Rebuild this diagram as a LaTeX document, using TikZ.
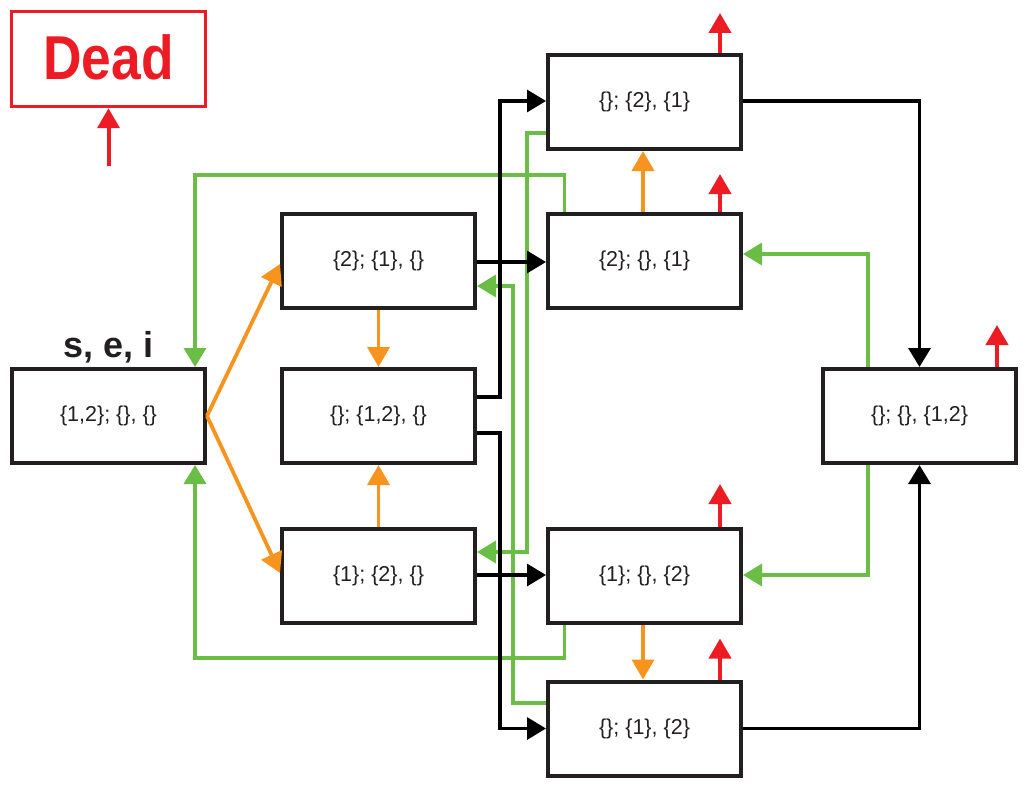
\documentclass[tikz,border=0pt]{standalone}
\usepackage{fontspec}
\setmainfont{Liberation Sans}
\usetikzlibrary{arrows.meta}
\definecolor{rd}{RGB}{237,28,36}
\definecolor{gn}{RGB}{106,190,69}
\definecolor{og}{RGB}{247,148,29}
\definecolor{bx}{RGB}{35,31,32}
\begin{document}
\begin{tikzpicture}[x=1pt,y=-1pt,
  box/.style={draw=bx, line width=4pt, minimum width=193pt, minimum height=94pt,
    inner sep=0pt, font=\fontsize{21.5}{24}\selectfont, text=bx},
  blk/.style={line width=3.3pt, draw=black, -{Triangle[length=19pt,width=22pt]}},
  grn/.style={line width=3.6pt, draw=gn, -{Triangle[length=19pt,width=22pt]}},
  org/.style={line width=3.8pt, draw=og, -{Triangle[length=20pt,width=22pt]}},
  red/.style={line width=4pt, draw=rd, -{Triangle[length=20pt,width=22pt]}}
]
\useasboundingbox (0,0) rectangle (1028,797);
% nodes
\node[draw=rd, line width=3.5pt, minimum width=194pt, minimum height=95pt, inner sep=0pt,
  text=rd, font=\bfseries\fontsize{62}{70}\selectfont] (dead) at (108.5,59) {\raisebox{3pt}{\scalebox{0.86}[1]{Dead}}};
\coordinate (deadfoot) at (108.5,166);
\node[box] (s) at (108.5,416) {\{1,2\}; \{\}, \{\}};
\node[font=\bfseries\fontsize{36}{40}\selectfont, text=bx, anchor=base, inner sep=0pt] (lbl) at (108.5,357) {s, e, i};
\node[box] (A) at (378.5,261) {\{2\}; \{1\}, \{\}};
\node[box] (B) at (378.5,416) {\{\}; \{1,2\}, \{\}};
\node[box] (C) at (378.5,576) {\{1\}; \{2\}, \{\}};
\node[box] (D) at (644.5,102) {\{\}; \{2\}, \{1\}};
\node[box] (E) at (644.5,261) {\{2\}; \{\}, \{1\}};
\node[box] (F) at (644.5,576) {\{1\}; \{\}, \{2\}};
\node[box] (G) at (644.5,728.5) {\{\}; \{1\}, \{2\}};
\node[box] (H) at (919.5,416) {\{\}; \{\}, \{1,2\}};
% red arrows
\draw[red] (deadfoot) -- (dead.south);
\draw[red] ([xshift=75.5pt]D.north) -- ++(0,-40);
\draw[red] ([xshift=75.5pt]E.north) -- ++(0,-38);
\draw[red] ([xshift=75.5pt]F.north) -- ++(0,-43);
\draw[red] ([xshift=75.5pt]G.north) -- ++(0,-41);
\draw[red] ([xshift=77.5pt]H.north) -- ++(0,-42);
% green arrows
\draw[grn] ([xshift=-80pt]E.north) -- ++(0,-37) -| ([xshift=86.5pt]s.north);
\draw[grn] ([xshift=-80pt]F.south) -- ++(0,33) -| ([xshift=86.5pt]s.south);
\draw[grn] ([yshift=-31pt]D.west) -- ++(-19,0) |- ([yshift=24pt]C.east);
\draw[grn] ([yshift=25.5pt]G.west) -- ++(-33,0) |- ([yshift=-25pt]A.east);
\draw[grn] ([xshift=-51.5pt]H.north) |- ([yshift=7pt]E.east);
\draw[grn] ([xshift=-51.5pt]H.south) |- ([yshift=1pt]F.east);
% black arrows
\draw[blk] ([yshift=19pt]B.east) -- ++(23,0) |- ([yshift=1pt]D.west);
\draw[blk] ([yshift=-17pt]B.east) -- ++(23,0) |- (G.west);
\draw[blk] ([yshift=-1pt]A.east) -- ([yshift=-1pt]E.west);
\draw[blk] ([yshift=1pt]C.east) -- ([yshift=1pt]F.west);
\draw[blk] ([yshift=1pt]D.east) -| (H.north);
\draw[blk] (G.east) -| (H.south);
% orange arrows
\draw[org] (s.east) -- ([yshift=-3pt]A.west);
\draw[org] (s.east) -- ([yshift=3pt]C.west);
\draw[org] (A.south) -- (B.north);
\draw[org] (C.north) -- (B.south);
\draw[org] ([xshift=-1.5pt]E.north) -- ([xshift=-1.5pt]D.south);
\draw[org] ([xshift=-1.5pt]F.south) -- ([xshift=-1.5pt]G.north);
\end{tikzpicture}
\end{document}
